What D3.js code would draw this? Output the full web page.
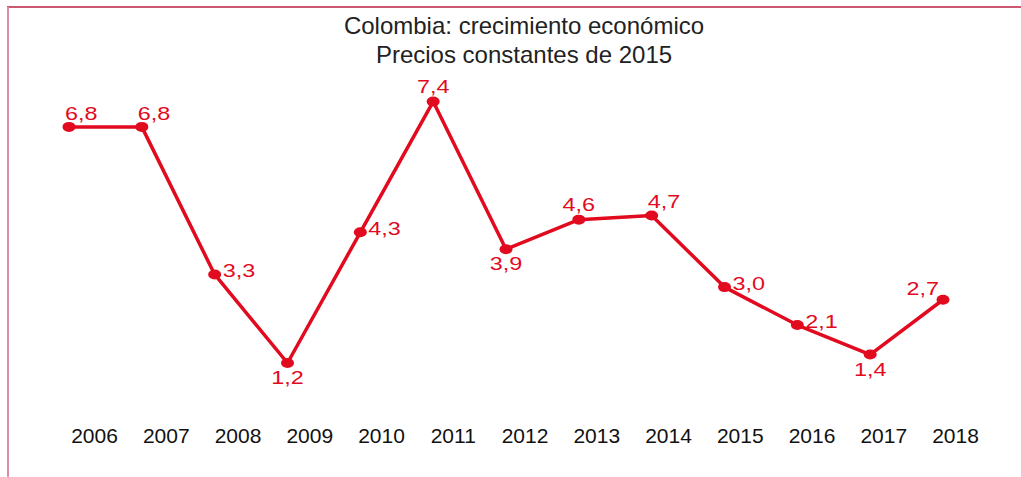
<!DOCTYPE html>
<html>
<head>
<meta charset="utf-8">
<script src="https://cdn.jsdelivr.net/npm/d3@7"></script>
<style>
  body { margin: 0; background: #fff; }
  svg { display: block; font-family: "Liberation Sans", Arial, sans-serif; }
</style>
</head>
<body>
<div id="chart"></div>
<script>
// data
const years = ['2006', '2007', '2008', '2009', '2010', '2011', '2012', '2013', '2014', '2015', '2016', '2017', '2018'];
const growth = [6.8, 6.8, 3.3, 1.2, 4.3, 7.4, 3.9, 4.6, 4.7, 3.0, 2.1, 1.4, 2.7];
// where each value label sits relative to its point
const labelPlace = ['ne', 'ne', 'e', 's', 'e', 'n', 's', 'n', 'ne', 'e', 'e', 's', 'nw'];
const titleLines = ['Colombia: crecimiento económico', 'Precios constantes de 2015'];

const width = 1021, height = 477;
const red = '#e20a1e';

const svg = d3.select('#chart').append('svg')
  .attr('width', width)
  .attr('height', height);

// frame lines
svg.append('line')
  .attr('x1', 7).attr('x2', width).attr('y1', 7).attr('y2', 7)
  .attr('stroke', '#b8203f').attr('stroke-width', 1.5);
svg.append('line')
  .attr('x1', 8).attr('x2', 8).attr('y1', 7).attr('y2', height)
  .attr('stroke', '#e08aa3').attr('stroke-width', 2);

// title
svg.append('g').selectAll('text')
  .data(titleLines)
  .enter().append('text')
  .attr('x', 524)
  .attr('y', (d, i) => 34 + i * 29)
  .attr('text-anchor', 'middle')
  .attr('font-size', '24px')
  .attr('fill', '#222')
  .text(d => d);

// scales
const x = d3.scalePoint().domain(years).range([69, 943]);
const xLab = d3.scalePoint().domain(years).range([94, 955]);
const y = d3.scaleLinear().domain([0, 8]).range([413.6, 76.3]);

// x axis labels only
const xAxis = d3.axisBottom(xLab).tickSize(0).tickPadding(0);
const xAxisGroup = svg.append('g')
  .attr('transform', 'translate(0, 428)')
  .call(xAxis);
xAxisGroup.select('.domain').remove();
xAxisGroup.selectAll('text')
  .attr('font-size', '21px')
  .attr('font-family', '"Liberation Sans", Arial, sans-serif')
  .attr('fill', '#111');

const pts = years.map((yr, i) => ({year: yr, value: growth[i], place: labelPlace[i]}));

// line
const line = d3.line()
  .x(d => x(d.year))
  .y(d => y(d.value));

svg.append('path')
  .datum(pts)
  .attr('d', line)
  .attr('fill', 'none')
  .attr('stroke', red)
  .attr('stroke-width', 3.5)
  .attr('stroke-linejoin', 'round');

// markers
svg.append('g').selectAll('ellipse')
  .data(pts)
  .enter().append('ellipse')
  .attr('cx', d => x(d.year))
  .attr('cy', d => y(d.value))
  .attr('rx', 6.5)
  .attr('ry', 5)
  .attr('fill', red);

// value labels
const placeOpts = {
  ne: {dx: -4, dy: -7, anchor: 'start'},
  n: {dx: 0, dy: -9, anchor: 'middle'},
  e: {dx: 8, dy: 3, anchor: 'start'},
  s: {dx: 0, dy: 21, anchor: 'middle'},
  nw: {dx: -4, dy: -5, anchor: 'end'}
};

const fmt = v => v.toFixed(1).replace('.', ',');

svg.append('g').selectAll('g')
  .data(pts)
  .enter().append('g')
  .attr('transform', d => {
    const o = placeOpts[d.place];
    return `translate(${x(d.year) + o.dx}, ${y(d.value) + o.dy})`;
  })
  .append('text')
  .attr('transform', 'scale(1.3, 1)')
  .attr('text-anchor', d => placeOpts[d.place].anchor)
  .attr('font-size', '18px')
  .attr('fill', red)
  .text(d => fmt(d.value));
</script>
</body>
</html>
